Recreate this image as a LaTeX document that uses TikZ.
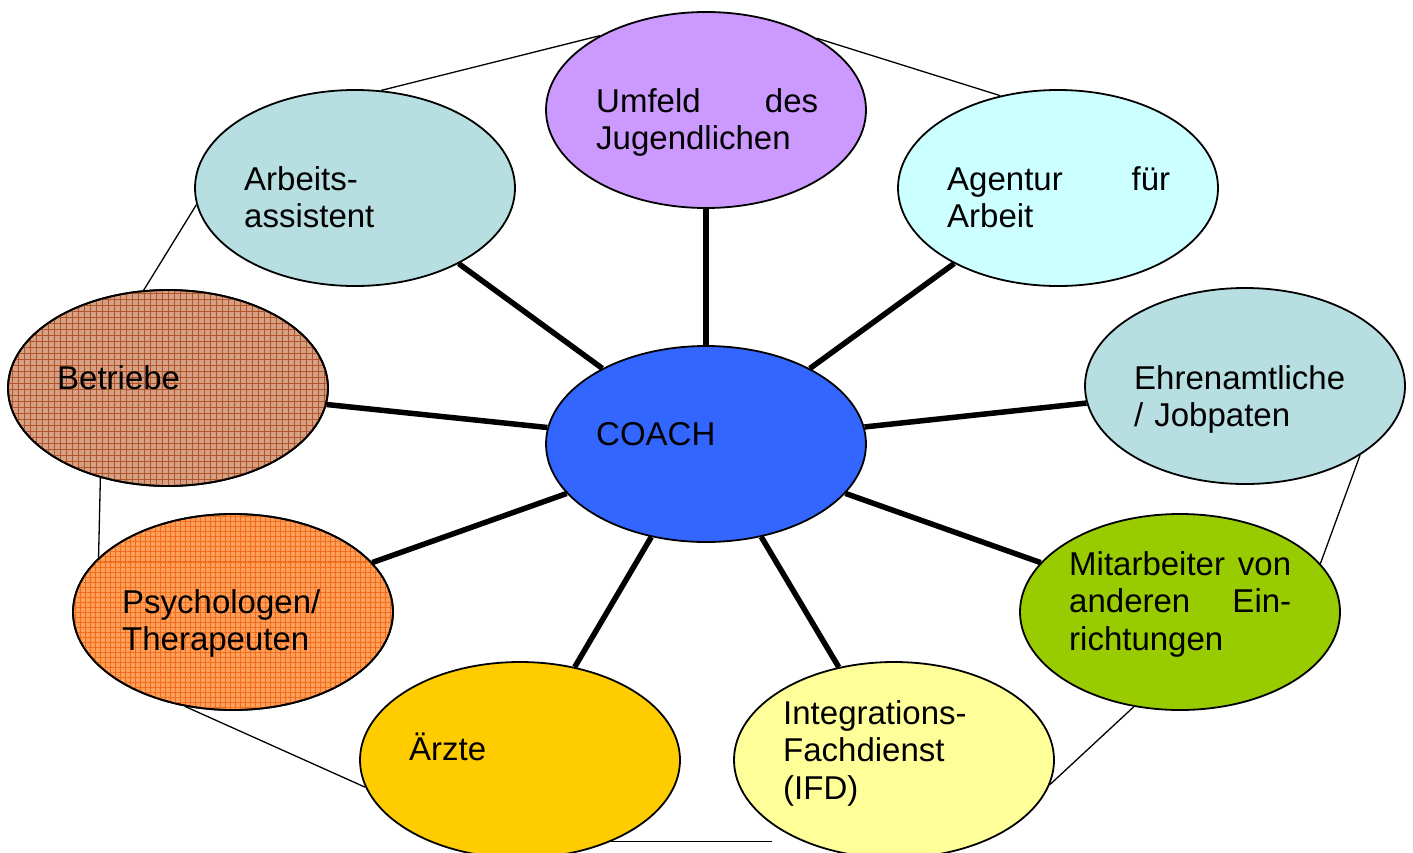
\documentclass[tikz,border=0pt]{standalone}
\usepackage{fontspec}
\setmainfont{Liberation Sans}
\usetikzlibrary{shapes.geometric,patterns.meta}
\definecolor{cUmfeld}{RGB}{204,153,255}
\definecolor{cTeal}{RGB}{183,222,225}
\definecolor{cAgentur}{RGB}{204,255,255}
\definecolor{cBetr}{RGB}{214,160,132}
\definecolor{cBetrL}{RGB}{178,84,42}
\definecolor{cPsy}{RGB}{255,160,90}
\definecolor{cPsyL}{RGB}{240,108,28}
\definecolor{cCoach}{RGB}{51,102,255}
\definecolor{cMitarb}{RGB}{153,204,0}
\definecolor{cAerzte}{RGB}{255,204,0}
\definecolor{cIntegr}{RGB}{255,255,153}
\tikzset{
  bubble/.style={ellipse, draw=black, line width=1.8pt, minimum width=320pt, minimum height=196pt, inner sep=0pt},
  label/.style={anchor=base west, inner sep=0pt, align=left, text width=240pt, font=\fontsize{33}{37.5}\selectfont, text=black},
  spoke/.style={line width=5.5pt},
  thin/.style={line width=1.3pt},
}
\begin{document}
\begin{tikzpicture}[x=1pt,y=-1pt]
\useasboundingbox (0,0) rectangle (1413,852);
\clip (0,0) rectangle (1413,852);
% ellipses
\node[bubble, fill=cUmfeld] (umfeld) at (706,110) {};
\node[bubble, fill=cTeal] (arbeits) at (355,188) {};
\node[bubble, fill=cAgentur] (agentur) at (1058,188) {};
\node[bubble, fill=cBetr] (betriebe) at (168,388) {};
\path[pattern={Hatch[distance=6pt, angle=0, line width=1pt]}, pattern color=cBetrL] (168,388) ellipse [x radius=160pt, y radius=98pt];
\draw[line width=1.8pt] (168,388) ellipse [x radius=160pt, y radius=98pt];
\node[bubble, fill=cTeal] (ehren) at (1245,386) {};
\node[bubble, fill=cCoach] (coach) at (706,444) {};
\node[bubble, fill=cMitarb] (mitarb) at (1180,612) {};
\node[bubble, fill=cPsy] (psy) at (233,612) {};
\path[pattern={Hatch[distance=5pt, angle=0, line width=1pt]}, pattern color=cPsyL] (233,612) ellipse [x radius=160pt, y radius=98pt];
\draw[line width=1.8pt] (233,612) ellipse [x radius=160pt, y radius=98pt];
\node[bubble, fill=cAerzte] (aerzte) at (520,760) {};
\node[bubble, fill=cIntegr] (integr) at (894,760) {};
% spokes
\foreach \n in {umfeld,arbeits,agentur,betriebe,ehren,mitarb,psy,aerzte,integr}
  \draw[spoke] (coach) -- (\n);
% thin outer lines
\draw[thin] (arbeits.75.7) -- (umfeld.145.8);
\draw[thin] (umfeld.33.2) -- (agentur.122.2);
\draw[thin] (arbeits.186.5) -- (betriebe.104.3);
\draw[thin] (ehren.-31) -- (mitarb.19.2);
\draw[thin] (betriebe.233.6) -- (psy.158.5);
\draw[thin] (psy.243.7) -- (aerzte.190.2);
\draw[thin] (aerzte.-42) -- (aerzte.-42 -| integr.208);
\draw[thin] (integr.-9.4) -- (mitarb.244.2);
% labels
\node[label, text width=222pt] (umfeld-t) at (596,112) {Umfeld\hfill des\\Jugendlichen};
\node[label] (arbeits-t) at (244,190) {Arbeits-\\assistent};
\node[label, text width=223pt] (agentur-t) at (947,190) {Agentur\hfill für\\Arbeit};
\node[label] (betriebe-t) at (57,389) {Betriebe};
\node[label] (ehren-t) at (1134,389) {Ehrenamtliche\\/ Jobpaten};
\node[label] (coach-t) at (596,445) {COACH};
\node[label, text width=222pt] (mitarb-t) at (1069,575) {Mitarbeiter\hfill von\\anderen\hfill Ein-\\richtungen};
\node[label] (psy-t) at (122,613) {Psychologen/\\Therapeuten};
\node[label] (aerzte-t) at (409,760) {Ärzte};
\node[label] (integr-t) at (783,724) {Integrations-\\Fachdienst\\(IFD)};
\end{tikzpicture}
\end{document}
